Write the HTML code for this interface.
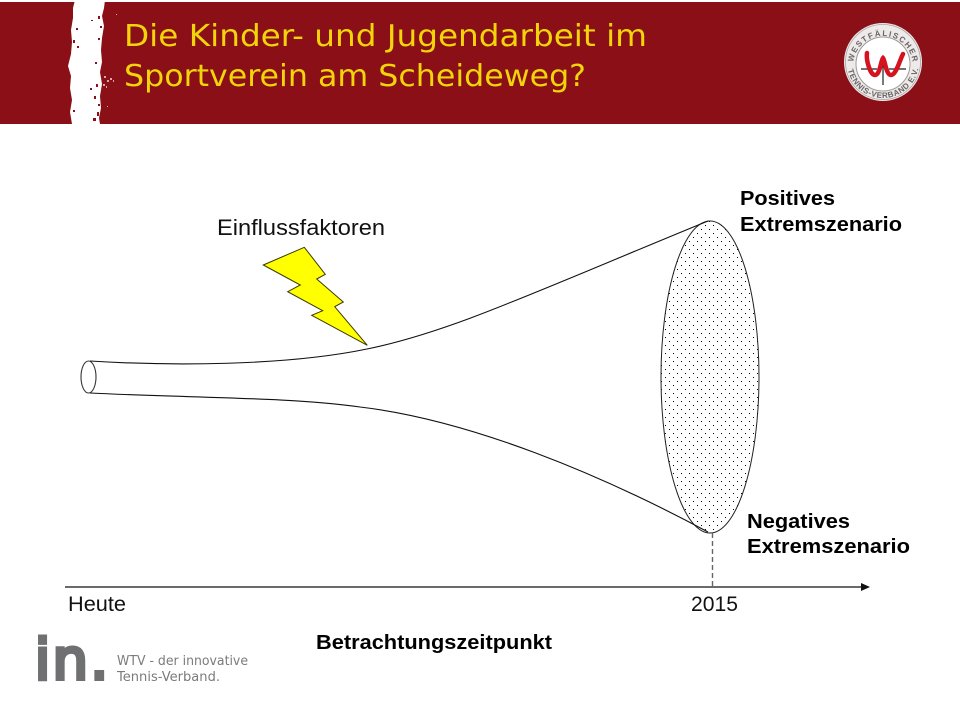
<!DOCTYPE html>
<html lang="de">
<head>
<meta charset="utf-8">
<title>Die Kinder- und Jugendarbeit im Sportverein am Scheideweg?</title>
<style>
html,body{margin:0;padding:0;background:#fff;width:960px;height:720px;overflow:hidden}
svg{display:block}
</style>
</head>
<body>
<svg width="960" height="720" viewBox="0 0 960 720" xmlns="http://www.w3.org/2000/svg">
  <defs>
    <pattern id="dots" width="8" height="8" patternUnits="userSpaceOnUse" x="0" y="0">
      <rect x="5" y="5" width="1" height="1" fill="#000" shape-rendering="crispEdges"/>
      <rect x="1" y="1" width="1" height="1" fill="#000" shape-rendering="crispEdges"/>
    </pattern>
    <path id="logo-top-arc" d="M853 66 A30 30 0 0 1 913 66"/>
    <path id="logo-bottom-arc" d="M847 62 A36 36 0 0 0 919 62"/>
  </defs>

  <rect x="0" y="0" width="960" height="720" fill="#ffffff"/>
  <g>
    <rect x="0" y="2" width="960" height="122" fill="#8a0f16"/>
    <polygon fill="#ffffff"
      points="75,0 105,0 104,8 102,16 104,26 102,38 101,50 102,62 100,72 102,84 100,96 101,108 99,118 100,124 72,124 70,112 72,100 70,88 71,76 68,66 71,54 72,42 71,30 73,18 73,8"/>
    <g fill="#8a0f16">
      <rect x="76" y="28" width="2" height="2"/><rect x="73" y="40" width="2" height="3"/><rect x="77" y="46" width="2" height="2"/>
      <rect x="98" y="16" width="2" height="3"/><rect x="91" y="20" width="2" height="1"/><rect x="100" y="26" width="2" height="2"/>
      <rect x="98" y="38" width="2" height="2"/><rect x="95" y="62" width="2" height="2"/><rect x="90" y="88" width="2" height="2"/>
      <rect x="96" y="84" width="2" height="3"/><rect x="94" y="96" width="2" height="3"/><rect x="98" y="104" width="2" height="2"/>
      <rect x="93" y="118" width="3" height="3"/><rect x="97" y="112" width="2" height="4"/><rect x="73" y="110" width="2" height="2"/>
    </g>
    <g fill="#d8a9a9">
      <rect x="104" y="76" width="2" height="2"/><rect x="107" y="80" width="2" height="2"/><rect x="103" y="84" width="2" height="2"/>
      <rect x="110" y="78" width="2" height="2"/><rect x="106" y="86" width="1" height="2"/><rect x="113" y="80" width="1" height="2"/>
      <rect x="116" y="14" width="1" height="1"/><rect x="107" y="106" width="1" height="1"/>
    </g>
    <text x="124" y="46" font-family="'DejaVu Sans',sans-serif" font-size="30" fill="#f2d40b" textLength="523" lengthAdjust="spacingAndGlyphs">Die Kinder- und Jugendarbeit im</text>
    <text x="124" y="86" font-family="'DejaVu Sans',sans-serif" font-size="30" fill="#f2d40b" textLength="462" lengthAdjust="spacingAndGlyphs">Sportverein am Scheideweg?</text>

    <g>
      <circle cx="883" cy="62" r="39" fill="#eeeaea"/>
      <circle cx="883" cy="62" r="37.5" fill="none" stroke="#a9a3a3" stroke-width="0.8"/>
      <circle cx="883" cy="64" r="27" fill="#ffffff" stroke="#a09a9a" stroke-width="1"/>
      <text font-family="'Liberation Sans',sans-serif" font-size="8" font-weight="bold" fill="#6a6464"><textPath href="#logo-top-arc" startOffset="4" textLength="86">WESTFÄLISCHER</textPath></text>
      <text font-family="'Liberation Sans',sans-serif" font-size="8" font-weight="bold" fill="#6a6464"><textPath href="#logo-bottom-arc" startOffset="8" textLength="98">TENNIS-VERBAND E.V.</textPath></text>
      <path d="M861 69 H877 M889 69 H906 M883 62 V85" fill="none" stroke="#222" stroke-width="1.2"/>
      <path d="M867 53 C866 60 870 75 875 75 C880 75 881 60 883 58 C885 60 886 75 891 75 C896 75 899 62 903 54" fill="none" stroke="#d4131f" stroke-width="4.5" stroke-linecap="round"/>
    </g>
  </g>

  <g>
    <ellipse cx="710" cy="377" rx="49" ry="156" fill="#ffffff" stroke="none"/>
    <ellipse cx="710" cy="377" rx="49" ry="156" fill="url(#dots)" stroke="#222" stroke-width="1"/>
    <path d="M90 361 C170 366 285 366 367 349 C450 332 530 294 708 221" fill="none" stroke="#111" stroke-width="1.1"/>
    <path d="M90 393 C190 398 290 397 360 407 C470 420 600 474 708 532" fill="none" stroke="#111" stroke-width="1.1"/>
    <ellipse cx="88.5" cy="377" rx="7.5" ry="16" fill="#ffffff" stroke="#333" stroke-width="1.1"/>
  </g>

  <polygon fill="#ffff00" stroke="#3a3a00" stroke-width="1"
    points="263.3,265 304.3,247.3 325.3,274.3 316.7,279 343.3,302 334.7,306.7 367.3,345.3 311.7,315.3 322.7,310.7 287.7,291.7 300.3,285"/>
  <text x="217" y="235" font-family="'Liberation Sans',sans-serif" font-size="22" fill="#111" textLength="168" lengthAdjust="spacingAndGlyphs">Einflussfaktoren</text>

  <g font-family="'Liberation Sans',sans-serif" font-size="20.5" font-weight="bold" fill="#000">
    <text x="740" y="205" textLength="95" lengthAdjust="spacingAndGlyphs">Positives</text>
    <text x="740" y="231" textLength="162" lengthAdjust="spacingAndGlyphs">Extremszenario</text>
    <text x="747" y="528" textLength="103" lengthAdjust="spacingAndGlyphs">Negatives</text>
    <text x="747" y="553" textLength="163" lengthAdjust="spacingAndGlyphs">Extremszenario</text>
  </g>

  <g>
    <line x1="712.5" y1="533" x2="712.5" y2="587" stroke="#666" stroke-width="1.4" stroke-dasharray="5 3"/>
    <line x1="65" y1="587" x2="862" y2="587" stroke="#111" stroke-width="1.3"/>
    <polygon points="870,587 861,583 861,591" fill="#111"/>
    <text x="68" y="611" font-family="'Liberation Sans',sans-serif" font-size="21" fill="#111" textLength="58" lengthAdjust="spacingAndGlyphs">Heute</text>
    <text x="691" y="611" font-family="'Liberation Sans',sans-serif" font-size="21" fill="#111" textLength="47" lengthAdjust="spacingAndGlyphs">2015</text>
    <text x="316" y="649" font-family="'Liberation Sans',sans-serif" font-size="20" font-weight="bold" fill="#000" textLength="236" lengthAdjust="spacingAndGlyphs">Betrachtungszeitpunkt</text>
  </g>

  <g>
    <text x="34.7" y="679" font-family="'DejaVu Sans',sans-serif" font-size="56" fill="#6f7072" stroke="#6f7072" stroke-width="4" letter-spacing="2.3">in.</text>
    <text x="117" y="665" font-family="'DejaVu Sans',sans-serif" font-size="13" fill="#7b7b7d" textLength="131" lengthAdjust="spacingAndGlyphs">WTV - der innovative</text>
    <text x="117" y="681" font-family="'DejaVu Sans',sans-serif" font-size="13" fill="#7b7b7d" textLength="103" lengthAdjust="spacingAndGlyphs">Tennis-Verband.</text>
  </g>
</svg>
</body>
</html>
